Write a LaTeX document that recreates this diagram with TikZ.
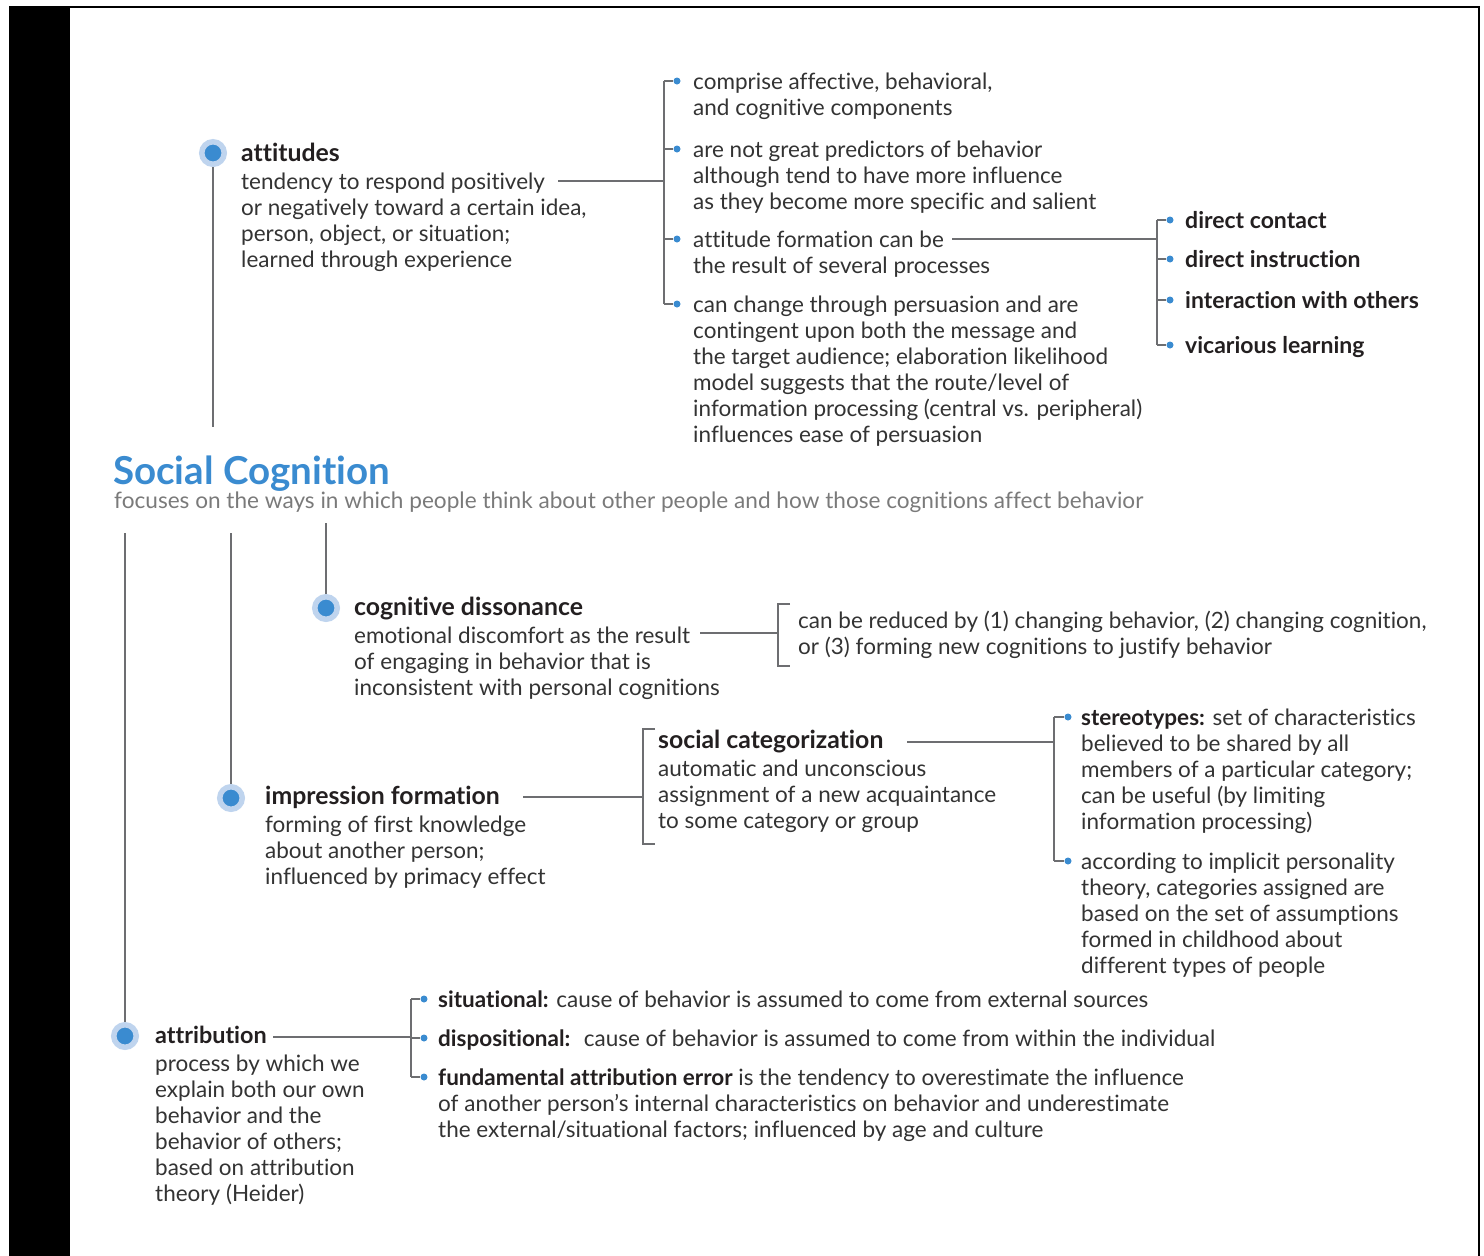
\documentclass[tikz,border=0pt]{standalone}
\usepackage{fontspec}
\setmainfont{Lato}[Ligatures=NoCommon]
\definecolor{hubblue}{HTML}{3A8BD0}
\definecolor{ringblue}{HTML}{BFD4EE}
\definecolor{linegray}{HTML}{6D6E71}
\definecolor{bodytext}{HTML}{333333}
\definecolor{headtext}{HTML}{231F20}
\definecolor{subgray}{HTML}{7A7A7A}
\newcommand{\fs}{\rule{0pt}{19pt}}
\newcommand{\hdg}[2][24.8]{{\fontsize{#1}{28}\selectfont\bfseries\color{headtext}\rule{0pt}{20.5pt}#2}}
\begin{document}
\begin{tikzpicture}[x=1pt,y=-1pt,
  txt/.style={anchor=north west, inner sep=0pt, align=left, text=bodytext,
    font=\fontsize{22.5}{26}\selectfont},
  itm/.style={txt, font=\fontsize{23}{26}\selectfont\bfseries, text=headtext},
  hub/.style={circle, fill=hubblue, draw=ringblue, line width=5.5pt, minimum size=22.5pt, inner sep=0pt},
  conn/.style={draw=linegray, line width=1.3pt},
  bul/.style={circle, fill=hubblue, inner sep=0pt, minimum size=7pt}]
\useasboundingbox (0,0) rectangle (1484,1256);
\fill[black] (9,7) rectangle (70,1256);
\draw[line width=2pt] (9,7) -- (1479,7) -- (1479,1256);

% ---------- attitudes ----------
\node[hub] (hA) at (213,153) {};
\node[txt] (tA) at (241,141) {\hdg{attitudes}\\[1.5pt]tendency to respond positively\\or negatively toward a certain idea,\\person, object, or situation;\\learned through experience};
\coordinate (aEnd) at (213,427);
\draw[conn] (hA) -- (aEnd);
\coordinate (aL) at (558,181);
\coordinate (b1m) at (664,181);
\draw[conn] (aL) -- (b1m);
\coordinate (b1t) at (664,81);
\coordinate (b1b) at (664,304);
\draw[conn] (b1t) -- (b1b);
\foreach \yy/\nm in {81/d11,149/d12,239/d13,304/d14}{
  \node[bul] (\nm) at (677,\yy) {};
  \draw[conn] (664,\yy) -- (\nm);
}
\node[txt] (i11) at (693,70) {\fs comprise affective, behavioral,\\and cognitive components};
\node[txt] (i12) at (693,138) {\fs are not great predictors of behavior\\although tend to have more influence\\as they become more specific and salient};
\node[txt] (i13) at (693,228) {\fs attitude formation can be\\the result of several processes};
\node[txt] (i14) at (693,293) {\fs can change through persuasion and are\\contingent upon both the message and\\the target audience; elaboration likelihood\\model suggests that the route/level of\\information processing (central vs. peripheral)\\influences ease of persuasion};
\coordinate (fL) at (952,239);
\coordinate (b2m) at (1157,239);
\draw[conn] (fL) -- (b2m);
\coordinate (b2t) at (1157,220);
\coordinate (b2b) at (1157,345);
\draw[conn] (b2t) -- (b2b);
\foreach \yy/\nm in {220/d21,259/d22,300/d23,345/d24}{
  \node[bul] (\nm) at (1170,\yy) {};
  \draw[conn] (1157,\yy) -- (\nm);
}
\node[itm] (p1) at (1185,209) {\fs direct contact};
\node[itm] (p2) at (1185,248) {\fs direct instruction};
\node[itm] (p3) at (1185,289) {\fs interaction with others};
\node[itm] (p4) at (1185,334) {\fs vicarious learning};

% ---------- title ----------
\node[anchor=base west, inner sep=0pt, text=hubblue, font=\fontsize{38.5}{42}\selectfont\bfseries] (title) at (113,484) {Social Cognition};
\node[anchor=base west, inner sep=0pt, text=subgray, font=\fontsize{22.6}{26}\selectfont] (sub) at (114,508) {focuses on the ways in which people think about other people and how those cognitions affect behavior};

% ---------- cognitive dissonance ----------
\node[hub] (hC) at (326,608) {};
\coordinate (cTop) at (326,523);
\draw[conn] (cTop) -- (hC);
\node[txt] (tC) at (354,595) {\hdg{cognitive dissonance}\\[1.5pt]emotional discomfort as the result\\of engaging in behavior that is\\inconsistent with personal cognitions};
\coordinate (cL) at (700,633);
\coordinate (b3m) at (778,633);
\draw[conn] (cL) -- (b3m);
\draw[conn] (790,604) -- (778,604) -- (778,666) -- (790,666);
\node[txt] (c1) at (798,609) {\fs can be reduced by (1) changing behavior, (2) changing cognition,\\or (3) forming new cognitions to justify behavior};

% ---------- impression formation ----------
\node[hub] (hI) at (231,798) {};
\coordinate (iTop) at (231,533);
\draw[conn] (iTop) -- (hI);
\node[txt] (tI) at (265,784) {\hdg{impression formation}\\[1.5pt]forming of first knowledge\\about another person;\\influenced by primacy effect};
\coordinate (iL) at (523,797);
\coordinate (b4m) at (643,797);
\draw[conn] (iL) -- (b4m);
\draw[conn] (655,729) -- (643,729) -- (643,844) -- (655,844);
\node[txt] (sc) at (658,728) {\hdg{social categorization}\\[1.5pt]automatic and unconscious\\assignment of a new acquaintance\\to some category or group};
\coordinate (sL) at (907,742);
\coordinate (b5m) at (1054,742);
\draw[conn] (sL) -- (b5m);
\coordinate (b5t) at (1054,717);
\coordinate (b5b) at (1054,861);
\draw[conn] (b5t) -- (b5b);
\foreach \yy/\nm in {717/d51,861/d52}{
  \node[bul] (\nm) at (1068,\yy) {};
  \draw[conn] (1054,\yy) -- (\nm);
}
\node[txt] (st) at (1081,706) {\fs\textbf{\color{headtext}stereotypes:} set of characteristics\\believed to be shared by all\\members of a particular category;\\can be useful (by limiting\\information processing)};
\node[txt] (ip) at (1081,850) {\fs according to implicit personality\\theory, categories assigned are\\based on the set of assumptions\\formed in childhood about\\different types of people};

% ---------- attribution ----------
\node[hub] (hT) at (125,1036) {};
\coordinate (tTop) at (125,533);
\draw[conn] (tTop) -- (hT);
\node[txt] (tT) at (155,1023) {\hdg[23.4]{attribution}\\[1.5pt]process by which we\\explain both our own\\behavior and the\\behavior of others;\\based on attribution\\theory (Heider)};
\coordinate (tL) at (273,1037);
\coordinate (b6m) at (411,1037);
\draw[conn] (tL) -- (b6m);
\coordinate (b6t) at (411,999);
\coordinate (b6b) at (411,1077);
\draw[conn] (b6t) -- (b6b);
\foreach \yy/\nm in {999/d61,1038/d62,1077/d63}{
  \node[bul] (\nm) at (424,\yy) {};
  \draw[conn] (411,\yy) -- (\nm);
}
\node[txt] (s1) at (438,988) {\fs\textbf{\color{headtext}situational:} cause of behavior is assumed to come from external sources};
\node[txt] (s2) at (438,1027) {\fs\textbf{\color{headtext}dispositional:} \ cause of behavior is assumed to come from within the individual};
\node[txt] (s3) at (438,1066) {\fs\textbf{\color{headtext}fundamental attribution error} is the tendency to overestimate the influence\\of another person’s internal characteristics on behavior and underestimate\\the external/situational factors; influenced by age and culture};
\end{tikzpicture}
\end{document}
